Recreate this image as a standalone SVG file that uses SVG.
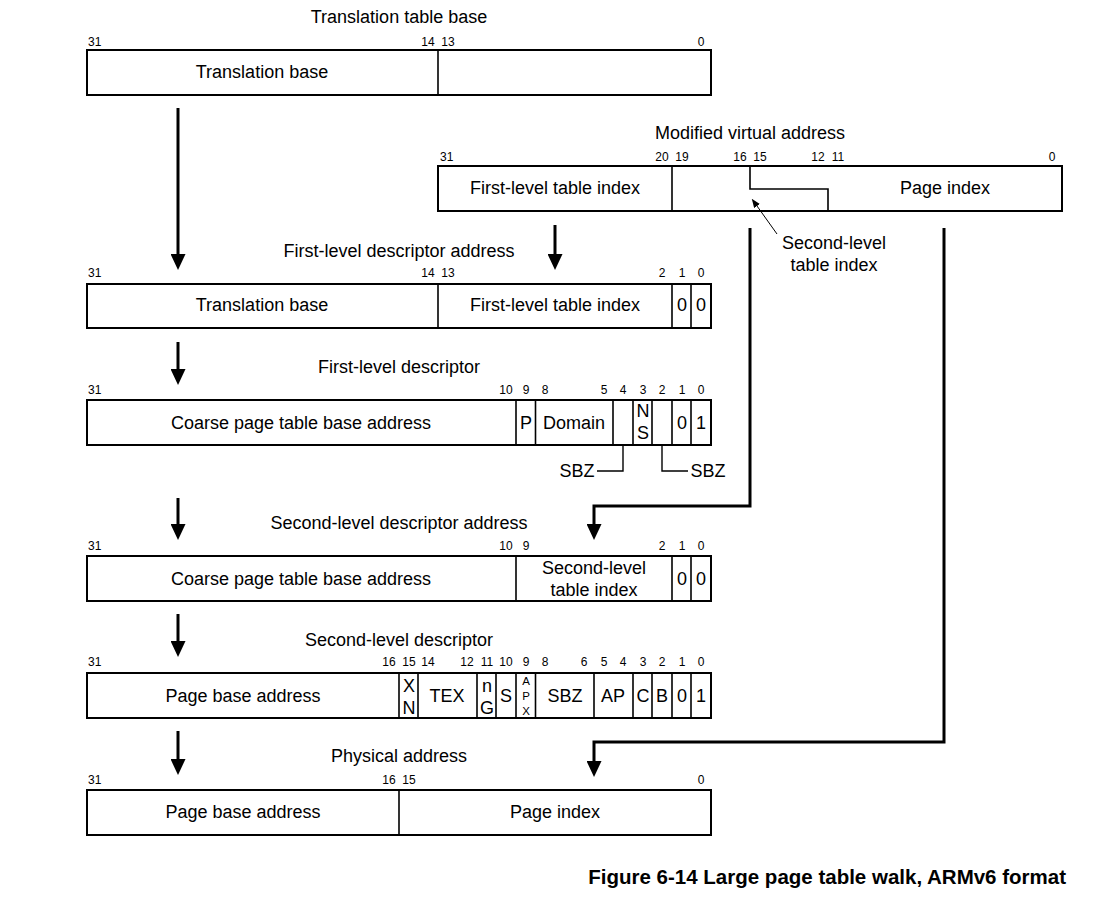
<svg xmlns="http://www.w3.org/2000/svg" width="1103" height="904" viewBox="0 0 1103 904">
<style>
text{font-family:"Liberation Sans",Arial,sans-serif;fill:#000}
.t{font-size:18px;text-anchor:middle}
.f{font-size:18px;text-anchor:middle}
.b{font-size:12px;text-anchor:middle}
.bs{font-size:12px;text-anchor:start}
.s{font-size:11.5px;text-anchor:middle}
.cap{font-size:20.5px;font-weight:bold;text-anchor:end}
.box{fill:#fff;stroke:#000;stroke-width:2}
.div{stroke:#000;stroke-width:1.6;fill:none}
.arr{stroke:#000;stroke-width:3;fill:none;marker-end:url(#ah)}
.thin{stroke:#000;stroke-width:1;fill:none;marker-end:url(#ahs)}
.lead{stroke:#000;stroke-width:1.4;fill:none}
</style>
<defs>
<marker id="ah" markerUnits="userSpaceOnUse" markerWidth="16" markerHeight="15" refX="0" refY="7.5" orient="auto"><path d="M0,0 L16,7.5 L0,15 z" fill="#000"/></marker>
<marker id="ahs" markerUnits="userSpaceOnUse" markerWidth="9" markerHeight="7" refX="0" refY="3.5" orient="auto"><path d="M0,0 L9,3.5 L0,7 z" fill="#000"/></marker>
</defs>
<rect width="1103" height="904" fill="#fff"/>

<g id="ttb">
<text class="t" x="399" y="23">Translation table base</text>
<text class="bs" x="88" y="46">31</text>
<text class="b" x="428" y="46">14</text>
<text class="b" x="448" y="46">13</text>
<text class="b" x="701" y="46">0</text>
<rect class="box" x="87" y="50" width="624" height="45"/>
<line class="div" x1="438" y1="50" x2="438" y2="95"/>
<text class="f" x="262" y="78">Translation base</text>
</g>

<g id="mva">
<text class="t" x="750" y="139">Modified virtual address</text>
<text class="bs" x="440" y="161">31</text>
<text class="b" x="662" y="161">20</text>
<text class="b" x="682" y="161">19</text>
<text class="b" x="740" y="161">16</text>
<text class="b" x="760" y="161">15</text>
<text class="b" x="818" y="161">12</text>
<text class="b" x="838" y="161">11</text>
<text class="b" x="1052" y="161">0</text>
<rect class="box" x="438" y="166" width="624" height="45"/>
<line class="div" x1="672" y1="166" x2="672" y2="211"/>
<polyline class="div" points="750,166 750,189 828,189 828,211"/>
<text class="f" x="555" y="194">First-level table index</text>
<text class="f" x="945" y="194">Page index</text>
<text class="f" x="834" y="249">Second-level</text>
<text class="f" x="834" y="271">table index</text>
</g>

<g id="fld-addr">
<text class="t" x="399" y="257">First-level descriptor address</text>
<text class="bs" x="88" y="277">31</text>
<text class="b" x="428" y="277">14</text>
<text class="b" x="448" y="277">13</text>
<text class="b" x="662" y="277">2</text>
<text class="b" x="682" y="277">1</text>
<text class="b" x="701" y="277">0</text>
<rect class="box" x="87" y="284" width="624" height="44"/>
<line class="div" x1="438" y1="284" x2="438" y2="328"/>
<line class="div" x1="672" y1="284" x2="672" y2="328"/>
<line class="div" x1="691" y1="284" x2="691" y2="328"/>
<text class="f" x="262" y="311">Translation base</text>
<text class="f" x="555" y="311">First-level table index</text>
<text class="f" x="682" y="311">0</text>
<text class="f" x="701" y="311">0</text>
</g>

<g id="fld">
<text class="t" x="399" y="373">First-level descriptor</text>
<text class="bs" x="88" y="394">31</text>
<text class="b" x="506" y="394">10</text>
<text class="b" x="526" y="394">9</text>
<text class="b" x="545" y="394">8</text>
<text class="b" x="604" y="394">5</text>
<text class="b" x="623" y="394">4</text>
<text class="b" x="643" y="394">3</text>
<text class="b" x="662" y="394">2</text>
<text class="b" x="682" y="394">1</text>
<text class="b" x="701" y="394">0</text>
<rect class="box" x="87" y="400" width="624" height="45"/>
<line class="div" x1="516" y1="400" x2="516" y2="445"/>
<line class="div" x1="535.5" y1="400" x2="535.5" y2="445"/>
<line class="div" x1="613" y1="400" x2="613" y2="445"/>
<line class="div" x1="633" y1="400" x2="633" y2="445"/>
<line class="div" x1="652" y1="400" x2="652" y2="445"/>
<line class="div" x1="672" y1="400" x2="672" y2="445"/>
<line class="div" x1="691" y1="400" x2="691" y2="445"/>
<text class="f" x="301" y="429">Coarse page table base address</text>
<text class="f" x="526" y="429">P</text>
<text class="f" x="574" y="429">Domain</text>
<text class="f" x="643" y="417">N</text>
<text class="f" x="643" y="439">S</text>
<text class="f" x="682" y="429">0</text>
<text class="f" x="701" y="429">1</text>
<polyline class="lead" points="623,445 623,471 597,471"/>
<polyline class="lead" points="662,445 662,471 688,471"/>
<text class="f" x="577" y="477">SBZ</text>
<text class="f" x="708" y="477">SBZ</text>
</g>

<g id="sld-addr">
<text class="t" x="399" y="529">Second-level descriptor address</text>
<text class="bs" x="88" y="550">31</text>
<text class="b" x="506" y="550">10</text>
<text class="b" x="526" y="550">9</text>
<text class="b" x="662" y="550">2</text>
<text class="b" x="682" y="550">1</text>
<text class="b" x="701" y="550">0</text>
<rect class="box" x="87" y="556" width="624" height="45"/>
<line class="div" x1="516" y1="556" x2="516" y2="601"/>
<line class="div" x1="672" y1="556" x2="672" y2="601"/>
<line class="div" x1="691" y1="556" x2="691" y2="601"/>
<text class="f" x="301" y="585">Coarse page table base address</text>
<text class="f" x="594" y="574">Second-level</text>
<text class="f" x="594" y="596">table index</text>
<text class="f" x="682" y="585">0</text>
<text class="f" x="701" y="585">0</text>
</g>

<g id="sld">
<text class="t" x="399" y="646">Second-level descriptor</text>
<text class="bs" x="88" y="666">31</text>
<text class="b" x="389" y="666">16</text>
<text class="b" x="409" y="666">15</text>
<text class="b" x="428" y="666">14</text>
<text class="b" x="467" y="666">12</text>
<text class="b" x="487" y="666">11</text>
<text class="b" x="506" y="666">10</text>
<text class="b" x="526" y="666">9</text>
<text class="b" x="545" y="666">8</text>
<text class="b" x="584" y="666">6</text>
<text class="b" x="604" y="666">5</text>
<text class="b" x="623" y="666">4</text>
<text class="b" x="643" y="666">3</text>
<text class="b" x="662" y="666">2</text>
<text class="b" x="682" y="666">1</text>
<text class="b" x="701" y="666">0</text>
<rect class="box" x="87" y="673" width="624" height="45"/>
<line class="div" x1="399" y1="673" x2="399" y2="718"/>
<line class="div" x1="418" y1="673" x2="418" y2="718"/>
<line class="div" x1="477" y1="673" x2="477" y2="718"/>
<line class="div" x1="496" y1="673" x2="496" y2="718"/>
<line class="div" x1="516" y1="673" x2="516" y2="718"/>
<line class="div" x1="535.5" y1="673" x2="535.5" y2="718"/>
<line class="div" x1="594" y1="673" x2="594" y2="718"/>
<line class="div" x1="633" y1="673" x2="633" y2="718"/>
<line class="div" x1="652" y1="673" x2="652" y2="718"/>
<line class="div" x1="672" y1="673" x2="672" y2="718"/>
<line class="div" x1="691" y1="673" x2="691" y2="718"/>
<text class="f" x="243" y="702">Page base address</text>
<text class="f" x="409" y="692">X</text>
<text class="f" x="409" y="714">N</text>
<text class="f" x="447" y="702">TEX</text>
<text class="f" x="487" y="692">n</text>
<text class="f" x="487" y="714">G</text>
<text class="f" x="506" y="702">S</text>
<text class="s" x="526" y="685">A</text>
<text class="s" x="526" y="700">P</text>
<text class="s" x="526" y="715">X</text>
<text class="f" x="565" y="702">SBZ</text>
<text class="f" x="613" y="702">AP</text>
<text class="f" x="643" y="702">C</text>
<text class="f" x="662" y="702">B</text>
<text class="f" x="682" y="702">0</text>
<text class="f" x="701" y="702">1</text>
</g>

<g id="pa">
<text class="t" x="399" y="762">Physical address</text>
<text class="bs" x="88" y="784">31</text>
<text class="b" x="389" y="784">16</text>
<text class="b" x="409" y="784">15</text>
<text class="b" x="701" y="784">0</text>
<rect class="box" x="87" y="790" width="624" height="45"/>
<line class="div" x1="399" y1="790" x2="399" y2="835"/>
<text class="f" x="243" y="818">Page base address</text>
<text class="f" x="555" y="818">Page index</text>
</g>

<g id="connectors">
<line class="arr" x1="178" y1="108" x2="178" y2="254"/>
<line class="arr" x1="555" y1="225" x2="555" y2="254"/>
<line class="arr" x1="178" y1="342" x2="178" y2="369"/>
<line class="arr" x1="178" y1="498" x2="178" y2="524"/>
<line class="arr" x1="178" y1="614" x2="178" y2="641"/>
<line class="arr" x1="178" y1="731" x2="178" y2="759"/>
<polyline class="arr" points="750,228 750,506 594,506 594,524"/>
<polyline class="arr" points="944,228 944,742 594,742 594,761"/>
<line class="thin" x1="777" y1="234" x2="757" y2="206"/>
</g>

<text class="cap" x="1066" y="884">Figure 6-14 Large page table walk, ARMv6 format</text>
</svg>
